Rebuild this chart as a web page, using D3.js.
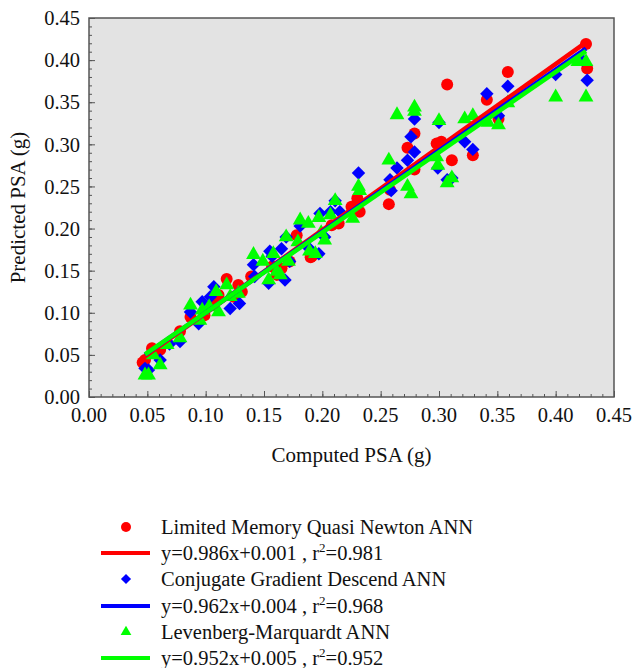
<!DOCTYPE html>
<html>
<head>
<meta charset="utf-8">
<script src="https://cdn.jsdelivr.net/npm/d3@7/dist/d3.min.js"></script>
<style>
  body { margin: 0; background: #fff; }
  text { font-family: "Liberation Serif", "Times New Roman", serif; fill: #111; }
</style>
</head>
<body>
<div id="chart"></div>
<script>
// data: [computed, predicted]
var lqnPoints = [
  [0.046,0.041],[0.048,0.044],[0.054,0.058],[0.061,0.056],[0.078,0.078],[0.087,0.095],
  [0.099,0.097],[0.107,0.113],[0.111,0.121],[0.118,0.140],[0.124,0.119],[0.128,0.133],
  [0.131,0.125],[0.139,0.143],[0.157,0.155],[0.161,0.145],[0.165,0.153],[0.172,0.161],
  [0.178,0.192],[0.190,0.166],[0.191,0.167],[0.208,0.204],[0.214,0.206],[0.225,0.226],
  [0.230,0.236],[0.232,0.220],[0.257,0.229],[0.258,0.246],[0.273,0.296],[0.279,0.313],
  [0.279,0.270],[0.298,0.301],[0.302,0.303],[0.307,0.371],[0.311,0.281],[0.329,0.287],
  [0.341,0.353],[0.351,0.330],[0.359,0.386],[0.426,0.419],[0.427,0.390]
];
var cgdPoints = [
  [0.048,0.034],[0.051,0.032],[0.061,0.044],[0.069,0.063],[0.078,0.066],[0.087,0.101],
  [0.094,0.087],[0.097,0.113],[0.104,0.119],[0.107,0.131],[0.121,0.105],[0.129,0.111],
  [0.141,0.157],[0.142,0.143],[0.154,0.135],[0.155,0.173],[0.157,0.167],[0.165,0.176],
  [0.168,0.139],[0.169,0.190],[0.172,0.161],[0.181,0.203],[0.189,0.176],[0.197,0.170],
  [0.198,0.218],[0.202,0.190],[0.207,0.220],[0.211,0.233],[0.215,0.220],[0.231,0.266],
  [0.258,0.258],[0.259,0.245],[0.264,0.272],[0.273,0.281],[0.276,0.309],[0.279,0.330],
  [0.279,0.291],[0.299,0.272],[0.300,0.326],[0.307,0.258],[0.311,0.260],[0.322,0.303],
  [0.329,0.294],[0.341,0.360],[0.351,0.334],[0.359,0.369],[0.400,0.383],[0.423,0.400],
  [0.427,0.376]
];
var lmPoints = [
  [0.048,0.026],[0.051,0.026],[0.055,0.050],[0.061,0.038],[0.067,0.062],[0.078,0.070],
  [0.087,0.109],[0.095,0.091],[0.097,0.103],[0.103,0.107],[0.109,0.125],[0.111,0.101],
  [0.118,0.133],[0.121,0.119],[0.128,0.123],[0.141,0.169],[0.149,0.161],[0.154,0.139],
  [0.158,0.170],[0.161,0.149],[0.164,0.145],[0.169,0.190],[0.171,0.161],[0.179,0.184],
  [0.181,0.210],[0.188,0.206],[0.189,0.173],[0.194,0.170],[0.197,0.213],[0.199,0.195],
  [0.202,0.186],[0.207,0.216],[0.211,0.233],[0.226,0.212],[0.231,0.250],[0.232,0.245],
  [0.257,0.281],[0.264,0.335],[0.273,0.250],[0.276,0.241],[0.279,0.344],[0.279,0.339],
  [0.298,0.285],[0.299,0.275],[0.300,0.328],[0.307,0.254],[0.311,0.260],[0.322,0.330],
  [0.329,0.334],[0.342,0.326],[0.351,0.323],[0.359,0.349],[0.400,0.356],[0.419,0.398],
  [0.426,0.398],[0.426,0.356]
];
// fitted lines: slope, intercept
var fits = [
  { name: "lqn", slope: 0.986, intercept: 0.001, color: "#ff0000" },
  { name: "cgd", slope: 0.962, intercept: 0.004, color: "#0000ff" },
  { name: "lm",  slope: 0.952, intercept: 0.005, color: "#00ff00" }
];
var fitRange = [0.048, 0.426];
var tickValues = [0, 0.05, 0.10, 0.15, 0.20, 0.25, 0.30, 0.35, 0.40, 0.45];
var legendLabels = [
  "Limited Memory Quasi Newton ANN",
  ["y=0.986x+0.001 , r", "2", "=0.981"],
  "Conjugate Gradient Descend ANN",
  ["y=0.962x+0.004 , r", "2", "=0.968"],
  "Levenberg-Marquardt ANN",
  ["y=0.952x+0.005 , r", "2", "=0.952"]
];

var W = 632, H = 668;
var pLeft = 89, pRight = 614, pTop = 18, pBottom = 397;

var svg = d3.select('#chart').append('svg')
  .attr('width', W).attr('height', H);

var x = d3.scaleLinear().domain([0, 0.45]).range([pLeft, pRight]);
var y = d3.scaleLinear().domain([0, 0.45]).range([pBottom, pTop]);

// plot background
svg.append('rect')
  .attr('x', pLeft).attr('y', pTop)
  .attr('width', pRight - pLeft).attr('height', pBottom - pTop)
  .attr('fill', '#e3e3e3');

// minor + major ticks, pointing inward
var minor = d3.range(0, 0.4501, 0.01);
svg.append('g').attr('transform', 'translate(0,' + pBottom + ')')
  .call(d3.axisTop(x).tickValues(minor).tickSize(3).tickFormat(''));
svg.append('g').attr('transform', 'translate(' + pLeft + ',0)')
  .call(d3.axisRight(y).tickValues(minor).tickSize(3).tickFormat(''));
svg.append('g').attr('transform', 'translate(0,' + pBottom + ')')
  .call(d3.axisTop(x).tickValues(tickValues).tickSize(6).tickFormat(''));
svg.append('g').attr('transform', 'translate(' + pLeft + ',0)')
  .call(d3.axisRight(y).tickValues(tickValues).tickSize(6).tickFormat(''));
svg.selectAll('.domain').remove();
svg.selectAll('.tick line').attr('stroke', '#555').attr('stroke-width', 1);

// tick labels
svg.append('g').selectAll('text').data(tickValues).enter().append('text')
  .attr('x', function(d) { return x(d); })
  .attr('y', pBottom + 25)
  .attr('text-anchor', 'middle')
  .style('font-size', '20.5px')
  .text(function(d) { return d3.format('.2f')(d); });
svg.append('g').selectAll('text').data(tickValues).enter().append('text')
  .attr('x', pLeft - 9)
  .attr('y', function(d) { return y(d); })
  .attr('dy', '0.35em')
  .attr('text-anchor', 'end')
  .style('font-size', '20.5px')
  .text(function(d) { return d3.format('.2f')(d); });

// points
var marks = svg.append('g');
marks.selectAll('circle').data(lqnPoints).enter().append('circle')
  .attr('cx', function(d) { return x(d[0]); })
  .attr('cy', function(d) { return y(d[1]); })
  .attr('r', 6)
  .attr('fill', '#ff0000');
marks.selectAll('path.cgd').data(cgdPoints).enter().append('path')
  .attr('class', 'cgd')
  .attr('d', d3.symbol().type(d3.symbolDiamond2).size(115))
  .attr('transform', function(d) { return 'translate(' + x(d[0]) + ',' + y(d[1]) + ')'; })
  .attr('fill', '#0000ff');
marks.selectAll('path.lm').data(lmPoints).enter().append('path')
  .attr('class', 'lm')
  .attr('d', d3.symbol().type(d3.symbolTriangle).size(95))
  .attr('transform', function(d) { return 'translate(' + x(d[0]) + ',' + y(d[1]) + ')'; })
  .attr('fill', '#00ff00');

// fit lines
svg.append('g').selectAll('line').data(fits).enter().append('line')
  .attr('x1', x(fitRange[0]))
  .attr('x2', x(fitRange[1]))
  .attr('y1', function(d) { return y(d.slope * fitRange[0] + d.intercept); })
  .attr('y2', function(d) { return y(d.slope * fitRange[1] + d.intercept); })
  .attr('stroke', function(d) { return d.color; })
  .attr('stroke-width', 4.5);

// frame
svg.append('rect')
  .attr('x', pLeft).attr('y', pTop)
  .attr('width', pRight - pLeft).attr('height', pBottom - pTop)
  .attr('fill', 'none').attr('stroke', '#555').attr('stroke-width', 1.5);

// axis titles
svg.append('text')
  .attr('x', (pLeft + pRight) / 2).attr('y', 462)
  .attr('text-anchor', 'middle')
  .style('font-size', '21px')
  .text('Computed PSA (g)');
svg.append('text')
  .attr('transform', 'translate(25,' + ((pTop + pBottom) / 2) + ') rotate(-90)')
  .attr('text-anchor', 'middle')
  .style('font-size', '21px')
  .text('Predicted PSA (g)');

// legend
var legendY = [527, 553, 579, 606, 632, 658];
var legend = svg.append('g');
legendLabels.forEach(function(lbl, i) {
  var t = legend.append('text')
    .attr('x', 161).attr('y', legendY[i]).attr('dy', '0.35em')
    .style('font-size', '20.5px');
  if (typeof lbl === 'string') {
    t.text(lbl);
  } else {
    t.append('tspan').text(lbl[0]);
    t.append('tspan').attr('dy', -8).style('font-size', '13px').text(lbl[1]);
    t.append('tspan').attr('dy', 8).text(lbl[2]);
  }
});
var sw = fits.map(function(d) { return d.color; });
legend.append('circle').attr('cx', 126).attr('cy', legendY[0]).attr('r', 5).attr('fill', sw[0]);
legend.append('path').attr('d', d3.symbol().type(d3.symbolDiamond2).size(65))
  .attr('transform', 'translate(126,' + legendY[2] + ')').attr('fill', sw[1]);
legend.append('path').attr('d', d3.symbol().type(d3.symbolTriangle).size(50))
  .attr('transform', 'translate(126,' + legendY[4] + ')').attr('fill', sw[2]);
[1, 3, 5].forEach(function(r, k) {
  legend.append('line')
    .attr('x1', 101).attr('x2', 150)
    .attr('y1', legendY[r]).attr('y2', legendY[r])
    .attr('stroke', sw[k]).attr('stroke-width', 4);
});
</script>
</body>
</html>
